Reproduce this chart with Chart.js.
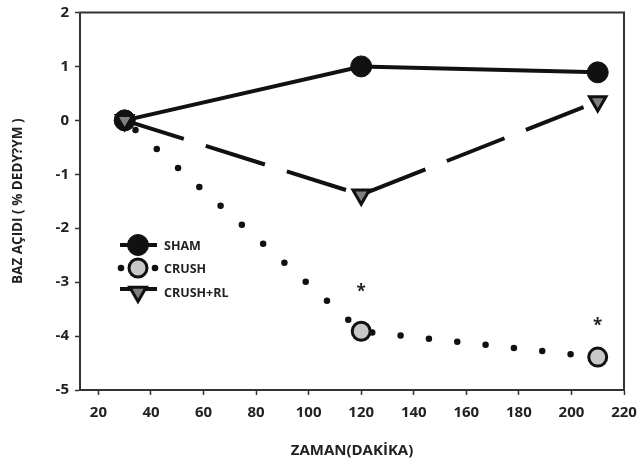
<!DOCTYPE html>
<html>
<head>
<meta charset="utf-8">
<script src="https://cdn.jsdelivr.net/npm/chart.js@4/dist/chart.umd.min.js"></script>
<style>
  body { margin: 0; background: #fff; }
  #wrap { width: 640px; height: 459px; }
</style>
</head>
<body>
<div id="wrap"><canvas id="chart"></canvas></div>
<script>
const xValues = [30, 120, 210];
const shamValues = [0, 1.0, 0.89];
const crushValues = [0, -3.91, -4.39];
const crushRlValues = [0, -1.38, 0.35];
const seriesNames = ["SHAM", "CRUSH", "CRUSH+RL"];
const xTicks = [20, 40, 60, 80, 100, 120, 140, 160, 180, 200, 220];
const yTicks = [-5, -4, -3, -2, -1, 0, 1, 2];
const starX = [120, 210];
const starY = [-3.12, -3.75];

const font = "'Open Sans', 'DejaVu Sans', sans-serif";
const axisColor = "#333";

const toPoints = vals => vals.map((v, i) => ({ x: xValues[i], y: v }));

// box around the plot + asterisks + legend inside the plot
const extras = {
  id: "extras",
  afterDraw(chart) {
    const ctx = chart.ctx;
    const a = chart.chartArea;
    const xs = chart.scales.x, ys = chart.scales.y;
    ctx.save();
    ctx.strokeStyle = axisColor;
    ctx.lineWidth = 2;
    ctx.strokeRect(a.left, a.top, a.right - a.left, a.bottom - a.top);

    ctx.fillStyle = "#222";
    ctx.font = "bold 17px " + font;
    ctx.textAlign = "center";
    ctx.textBaseline = "middle";
    starX.forEach((x, i) => {
      ctx.fillText("*", xs.getPixelForValue(x), ys.getPixelForValue(starY[i]) + 4);
    });

    // legend
    const lx1 = 120, lx2 = 157, mx = 138, tx = 164;
    const rows = [245, 268, 292];
    ctx.font = "bold 12.5px " + font;
    ctx.textAlign = "left";

    // SHAM
    ctx.strokeStyle = "#111";
    ctx.lineWidth = 4;
    ctx.beginPath(); ctx.moveTo(lx1, rows[0]); ctx.lineTo(lx2, rows[0]); ctx.stroke();
    ctx.fillStyle = "#111";
    ctx.lineWidth = 1;
    Chart.helpers.drawPoint(ctx, { pointStyle: "circle", radius: 10.5, borderWidth: 1 }, mx, rows[0]);

    // CRUSH
    ctx.fillStyle = "#111";
    [lx1 + 1, lx2 - 2].forEach(x => {
      ctx.beginPath(); ctx.arc(x, rows[1], 3.3, 0, Math.PI * 2); ctx.fill();
    });
    ctx.fillStyle = "#c8c8c8";
    ctx.strokeStyle = "#111";
    ctx.lineWidth = 3;
    Chart.helpers.drawPoint(ctx, { pointStyle: "circle", radius: 9, borderWidth: 3 }, mx, rows[1]);

    // CRUSH+RL
    ctx.lineWidth = 4;
    ctx.beginPath(); ctx.moveTo(lx1, rows[2] - 3); ctx.lineTo(lx2, rows[2] - 3); ctx.stroke();
    ctx.fillStyle = "#808080";
    ctx.lineWidth = 3;
    Chart.helpers.drawPoint(ctx, { pointStyle: "triangle", radius: 9.5, rotation: 180, borderWidth: 3 }, mx, rows[2]);

    ctx.fillStyle = "#222";
    seriesNames.forEach((n, i) => ctx.fillText(n, tx, rows[i] + 1));
    ctx.restore();
  }
};

new Chart(document.getElementById("chart"), {
  type: "line",
  data: {
    datasets: [
      {
        label: seriesNames[2],
        data: toPoints(crushRlValues),
        order: 0,
        borderColor: "#111",
        borderWidth: 4,
        borderDash: [62, 23],
        pointStyle: "triangle",
        pointRotation: 180,
        pointRadius: 9.5,
        pointBorderWidth: 3,
        pointBackgroundColor: "#808080",
        pointBorderColor: "#111"
      },
      {
        label: seriesNames[0],
        data: toPoints(shamValues),
        order: 1,
        borderColor: "#111",
        borderWidth: 4,
        pointStyle: "circle",
        pointRadius: 10.5,
        pointBorderWidth: 1,
        pointBackgroundColor: "#111",
        pointBorderColor: "#111"
      },
      {
        label: seriesNames[1],
        data: toPoints(crushValues),
        order: 2,
        borderColor: "#111",
        borderWidth: 6.5,
        borderDash: [0, 28.5],
        borderDashOffset: 14,
        borderCapStyle: "round",
        pointStyle: "circle",
        pointRadius: 9,
        pointBorderWidth: 3,
        pointBackgroundColor: "#c8c8c8",
        pointBorderColor: "#111"
      }
    ]
  },
  options: {
    responsive: true,
    maintainAspectRatio: false,
    animation: false,
    layout: { padding: { top: 11, right: 16, left: 0, bottom: 0 } },
    plugins: {
      legend: { display: false },
      tooltip: { enabled: false }
    },
    scales: {
      x: {
        type: "linear",
        min: 13,
        max: 220,
        afterBuildTicks: axis => { axis.ticks = xTicks.map(v => ({ value: v })); },
        afterFit: axis => { axis.height = 69; axis.paddingLeft = 0; axis.paddingRight = 0; },
        border: { display: true, color: axisColor, width: 2 },
        grid: { drawOnChartArea: false, drawTicks: true, tickLength: 5, tickColor: axisColor, tickWidth: 1.5 },
        ticks: { color: "#222", padding: 9, maxRotation: 0, font: { family: font, size: 15, weight: "bold" } },
        title: {
          display: true,
          text: "ZAMAN(DAKİKA)",
          color: "#222",
          padding: { top: 0, bottom: -1 },
          font: { family: font, size: 15, weight: "bold" }
        }
      },
      y: {
        min: -5,
        max: 2,
        afterBuildTicks: axis => { axis.ticks = yTicks.map(v => ({ value: v })); },
        afterFit: axis => { axis.width = 80; axis.paddingTop = 0; axis.paddingBottom = 0; },
        border: { display: true, color: axisColor, width: 2 },
        grid: { drawOnChartArea: false, drawTicks: true, tickLength: 5, tickColor: axisColor, tickWidth: 1.5 },
        ticks: { color: "#222", padding: 6, font: { family: font, size: 15, weight: "bold" } },
        title: {
          display: true,
          text: "BAZ AÇIDI ( % DEDY?YM )",
          color: "#222",
          padding: { top: 10, bottom: 0 },
          font: { family: font, size: 13.5, weight: "bold" }
        }
      }
    }
  },
  plugins: [extras]
});
</script>
</body>
</html>
